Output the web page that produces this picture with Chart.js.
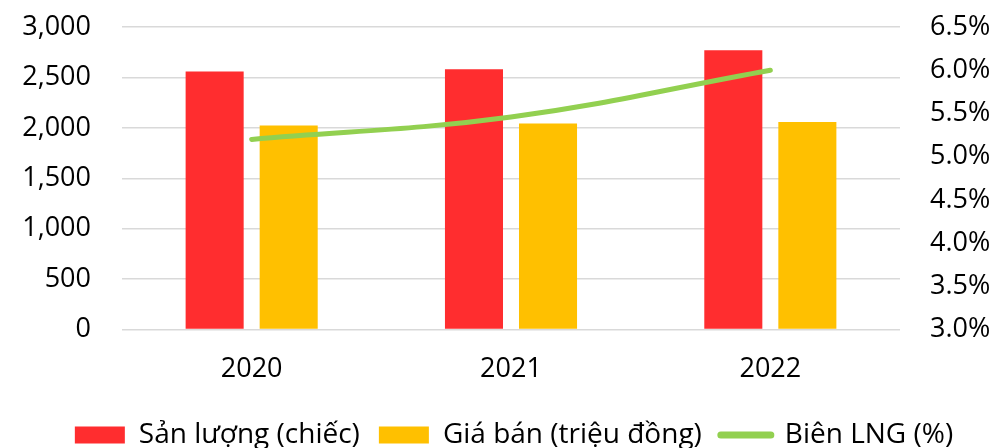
<!DOCTYPE html>
<html>
<head>
<meta charset="utf-8">
<script src="https://cdn.jsdelivr.net/npm/chart.js@4.4.1/dist/chart.umd.min.js"></script>
<style>
  html, body { margin: 0; padding: 0; background: #fff; }
  #wrap { width: 998px; height: 448px; }
</style>
</head>
<body>
<div id="wrap"><canvas id="myChart" width="998" height="448"></canvas></div>
<script>
// dữ liệu
const namLabels = ['2020', '2021', '2022'];
const sanLuong = [2560, 2582, 2770];
const giaBan = [2024, 2043, 2057];
const bienLNG = [5.2, 5.46, 6.0];

const fontChu = "'Open Sans', 'Noto Sans', sans-serif";

// dời chú thích sang phải một chút
const dichChuThich = {
    id: 'dichChuThich',
    afterLayout(chart) {
        chart.legend.left += 15;
        chart.legend.right += 15;
    }
};

var ctx = document.getElementById('myChart').getContext('2d');
window.myChart = new Chart(ctx, {
    type: 'bar',
    data: {
        labels: namLabels,
        datasets: [
            {
                label: 'Sản lượng (chiếc)',
                data: sanLuong,
                backgroundColor: '#FF2D2F',
                categoryPercentage: 0.571,
                barPercentage: 0.784,
                yAxisID: 'y'
            },
            {
                label: 'Giá bán (triệu đồng)',
                data: giaBan,
                backgroundColor: '#FFC000',
                categoryPercentage: 0.571,
                barPercentage: 0.784,
                yAxisID: 'y'
            },
            {
                type: 'line',
                label: 'Biên LNG (%)',
                data: bienLNG,
                borderColor: '#92D050',
                backgroundColor: '#92D050',
                borderWidth: 5,
                borderCapStyle: 'round',
                tension: 0.4,
                pointRadius: 0,
                order: -1,
                yAxisID: 'y1'
            }
        ]
    },
    options: {
        responsive: false,
        animation: false,
        layout: { autoPadding: false, padding: { left: 0, right: 0, top: 27, bottom: -11 } },
        plugins: {
            tooltip: { enabled: false },
            legend: {
                position: 'bottom',
                labels: {
                    color: '#000',
                    font: { family: fontChu, size: 28 },
                    usePointStyle: true,
                    pointStyleWidth: 50,
                    boxHeight: 17,
                    padding: 19,
                    sort: (a, b) => a.datasetIndex - b.datasetIndex,
                    generateLabels: function(chart) {
                        const items = Chart.defaults.plugins.legend.labels.generateLabels(chart);
                        items.forEach(it => {
                            if (it.datasetIndex === 2) {
                                it.pointStyle = 'line';
                                it.lineWidth = 7;
                                it.lineCap = 'round';
                            } else {
                                it.pointStyle = 'rect';
                                it.lineWidth = 0;
                            }
                        });
                        return items;
                    }
                }
            }
        },
        scales: {
            x: {
                grid: { display: false },
                border: { display: false },
                ticks: {
                    color: '#000',
                    font: { family: fontChu, size: 27 },
                    padding: 16
                }
            },
            y: {
                position: 'left',
                min: 0,
                max: 3000,
                border: { display: false },
                grid: { color: '#D9D9D9', lineWidth: 1.5, drawTicks: false },
                ticks: {
                    stepSize: 500,
                    color: '#000',
                    font: { family: fontChu, size: 27 },
                    padding: 31,
                    callback: v => v.toLocaleString('en-US')
                },
                afterFit: function(scale) {
                    scale.width = 122;
                    scale.paddingTop = 0;
                    scale.paddingBottom = 0;
                }
            },
            y1: {
                position: 'right',
                min: 3.0,
                max: 6.5,
                border: { display: false },
                grid: { drawOnChartArea: false, drawTicks: false },
                ticks: {
                    stepSize: 0.5,
                    color: '#000',
                    font: { family: fontChu, size: 27 },
                    padding: 30,
                    callback: v => v.toFixed(1) + '%'
                },
                afterFit: function(scale) {
                    scale.width = 98;
                    scale.paddingTop = 0;
                    scale.paddingBottom = 0;
                }
            }
        }
    },
    plugins: [dichChuThich]
});
</script>
</body>
</html>
